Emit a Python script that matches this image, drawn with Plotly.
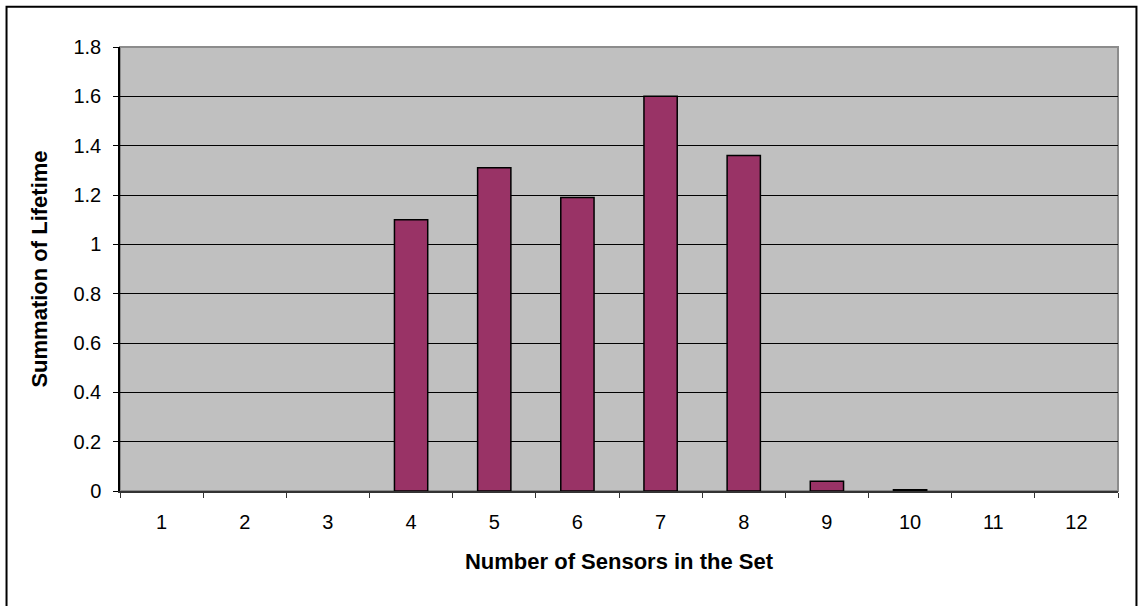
import plotly.graph_objects as go

# Sensor-set sizes and the summed lifetime for each
sensor_counts = ["1", "2", "3", "4", "5", "6", "7", "8", "9", "10", "11", "12"]
lifetime_sum = [0, 0, 0, 1.10, 1.31, 1.19, 1.60, 1.36, 0.04, 0.005, 0, 0]

y_ticks = [0, 0.2, 0.4, 0.6, 0.8, 1, 1.2, 1.4, 1.6, 1.8]
y_tick_text = ["0", "0.2", "0.4", "0.6", "0.8", "1", "1.2", "1.4", "1.6", "1.8"]

FONT = "Arial, Liberation Sans, sans-serif"

# empty categories get no outline so nothing is drawn for them
outline_widths = [1.5 if v > 0 else 0 for v in lifetime_sum]

fig = go.Figure(
    go.Bar(
        x=sensor_counts,
        y=lifetime_sum,
        marker=dict(color="#993366", line=dict(color="#000000", width=outline_widths)),
    )
)

fig.update_layout(
    width=1138,
    height=606,
    margin=dict(l=120, r=20, t=47, b=115),
    paper_bgcolor="#ffffff",
    plot_bgcolor="#c0c0c0",
    bargap=0.6,
    showlegend=False,
    font=dict(family=FONT, size=20, color="#000000"),
    shapes=[
        # plot-area frame
        dict(type="rect", xref="paper", yref="paper", x0=0, x1=1, y0=0, y1=1,
             line=dict(color="#8c8c8c", width=2), layer="below"),
        # chart-area border
        dict(type="rect", xref="paper", yref="paper",
             x0=-0.1137, x1=1.0185, y0=-0.40, y1=1.0905,
             line=dict(color="#000000", width=2)),
    ],
)

fig.update_xaxes(
    type="category",
    tickson="boundaries",
    ticks="outside",
    ticklen=5,
    tickwidth=1,
    tickcolor="#333333",
    showline=True,
    linecolor="#333333",
    linewidth=2,
    showgrid=False,
    tickfont=dict(family=FONT, size=20),
    ticklabelstandoff=12,
    title=dict(text="<b>Number of Sensors in the Set</b>",
               font=dict(family=FONT, size=22), standoff=22),
)

fig.update_yaxes(
    range=[0, 1.8],
    tickvals=y_ticks,
    ticktext=y_tick_text,
    ticks="outside",
    ticklen=5,
    tickwidth=1,
    tickcolor="#000000",
    showline=True,
    linecolor="#000000",
    linewidth=1.5,
    showgrid=True,
    gridcolor="#000000",
    gridwidth=1,
    zeroline=False,
    tickfont=dict(family=FONT, size=20),
    ticklabelstandoff=8,
    title=dict(text="<b>Summation of Lifetime</b>",
               font=dict(family=FONT, size=22), standoff=20),
)

fig.write_html("out.html")
